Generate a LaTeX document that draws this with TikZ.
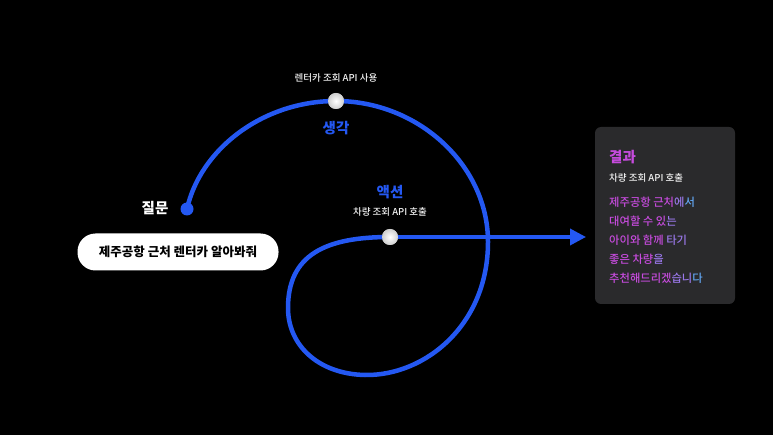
\documentclass[tikz,border=0pt]{standalone}
\usepackage{fontspec}
\setmainfont{Noto Sans CJK KR}
\newfontfamily\medfont{Noto Sans CJK KR Medium}
\usetikzlibrary{arrows.meta}

\begin{document}
\begin{tikzpicture}[x=1pt,y=-1pt,
    knob/.style={circle,inner sep=0pt,minimum size=16pt,shading=radial,inner color=white,outer color=white!62!gray},
    small/.style={text=white!88!gray,font=\medfont\fontsize{9.5}{11}\selectfont},
    stage/.style={text=flow_blue,font=\bfseries\fontsize{14.5}{16}\selectfont},
    resline/.style={anchor=west,inner sep=0pt,font=\medfont\fontsize{11.3}{13}\selectfont}]
    \definecolor{flow_blue}{HTML}{2458F2}
    \definecolor{res_a}{HTML}{C64BDD}
    \definecolor{res_b}{HTML}{9A78EA}
    \definecolor{res_c}{HTML}{62A6F2}
    \definecolor{box_gray}{HTML}{2A2A2C}
    \path[fill=black] (0,0) rectangle (773,435);

    % question
    \node[circle,fill=flow_blue,inner sep=0pt,minimum size=13pt] (q) at (187,209) {};
    \node[text=white,font=\bfseries\fontsize{14.5}{16}\selectfont] (qname) at (155,208) {질문};
    \node[fill=white,rounded corners=18pt,minimum width=201pt,minimum height=37pt,
          font=\bfseries\fontsize{12.5}{14}\selectfont] (ask) at (178,252) {제주공항 근처 렌터카 알아봐줘};

    % path
    \node[knob] (think) at (336,101) {};
    \node[knob] (act) at (390,237) {};
    \coordinate (out) at (586,237);
    \draw[flow_blue,line width=4.5pt,line cap=round]
        (q.center) .. controls (200,150) and (262,101) .. (think.center)
        .. controls (418,101) and (488,165) .. (488,242)
        .. controls (488,325) and (425,376) .. (365,375)
        .. controls (318,374) and (288,345) .. (288,308)
        .. controls (288,255) and (325,237) .. (act.center);
    \draw[flow_blue,line width=3.5pt,-{Triangle[length=16pt,width=16pt]}] (act.center) -- (out);
    \node[knob] at (think) {};
    \node[knob] at (act) {};

    \node[small] (thinklbl) at (336,78) {렌터카 조회 API 사용};
    \node[stage] (thinkname) at (336,128) {생각};
    \node[stage] (actname) at (390,192) {액션};
    \node[small] (actlbl) at (390,212) {차량 조회 API 호출};

    % result
    \path[fill=box_gray,rounded corners=6pt] (595,127) rectangle (735,304);
    \node[anchor=west,inner sep=0pt,text=res_a,font=\bfseries\fontsize{14.5}{16}\selectfont] (res) at (609,157) {결과};
    \node[anchor=west,inner sep=0pt,small] (reslbl) at (609,178) {차량 조회 API 호출};
    \node[resline] (r1) at (609,202) {\color{res_a}제주공항 근처\color{res_b}에\color{res_c}서};
    \node[resline] (r2) at (609,221) {\color{res_a}대여할 수 있\color{res_b}는};
    \node[resline] (r3) at (609,240) {\color{res_a}아이와 함께 \color{res_b}타기};
    \node[resline] (r4) at (609,259) {\color{res_a}좋은 차량\color{res_b}을};
    \node[resline] (r5) at (609,278) {\color{res_a}추천해드리겠\color{res_b}습니\color{res_c}다};
\end{tikzpicture}
\end{document}
